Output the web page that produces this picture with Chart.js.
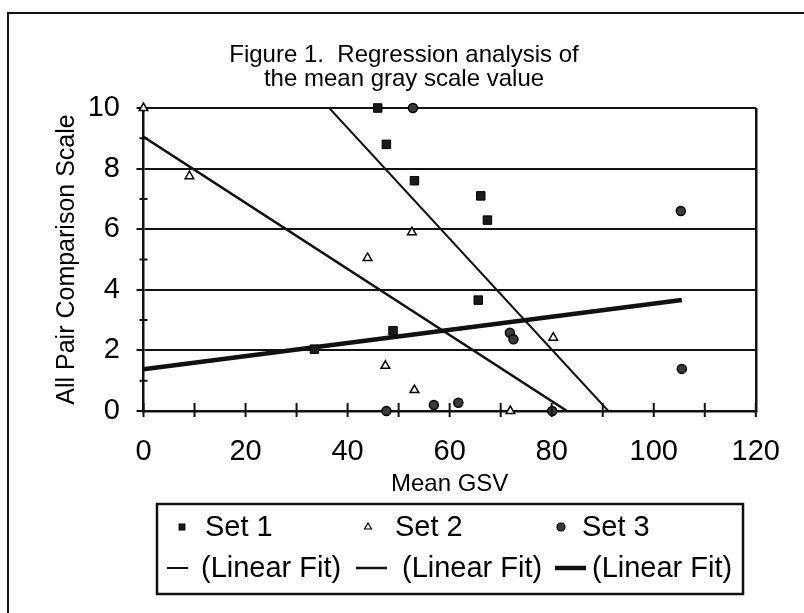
<!DOCTYPE html>
<html lang="en">
<head>
<meta charset="UTF-8">
<title>Figure 1</title>
<script src="https://cdn.jsdelivr.net/npm/chart.js"></script>
<style>
  * { margin: 0; padding: 0; }
  body { background: #fff; width: 804px; height: 613px; overflow: hidden; }
  canvas { display: block; }
</style>
</head>
<body>
<canvas id="chart" width="804" height="613"></canvas>
<script>
// values
const set1X = [33.5, 45.9, 47.6, 48.9, 53.1, 65.6, 66.1, 67.4];
const set1Y = [2.04, 10.0, 8.8, 2.65, 7.6, 3.66, 7.1, 6.3];
const set2X = [0, 9.0, 43.9, 47.4, 52.6, 53.1, 71.9, 80.3];
const set2Y = [10.0, 7.75, 5.05, 1.49, 5.9, 0.69, 0.0, 2.42];
const set3X = [47.6, 52.8, 56.9, 61.7, 71.8, 72.5, 80.1, 105.3, 105.5];
const set3Y = [0.0, 10.0, 0.2, 0.27, 2.58, 2.37, 0.0, 6.6, 1.39];

// fitted lines, end points as drawn
const fit1X = [36.4, 91.1];
const fit1Y = [10.0, 0.0];
const fit2X = [0, 83.0];
const fit2Y = [9.05, 0.0];
const fit3X = [0, 105.5];
const fit3Y = [1.38, 3.66];

const xTicks = [0, 20, 40, 60, 80, 100, 120];
const yTicks = [0, 2, 4, 6, 8, 10];
const seriesNames = ['Set 1', 'Set 2', 'Set 3'];
const fitName = '(Linear Fit)';

const FONT = "'Liberation Sans', Arial, sans-serif";
const INK = '#111';

function pts(xs, ys) {
  return xs.map((x, i) => ({ x: x, y: ys[i] }));
}

// outer frame, tick marks across the axes and the boxed legend
const framePlugin = {
  id: 'frame',
  afterDraw(chart) {
    const ctx = chart.ctx;
    const xs = chart.scales.x, ys = chart.scales.y;
    ctx.save();
    ctx.strokeStyle = INK;
    ctx.lineWidth = 2;
    ctx.beginPath();
    ctx.moveTo(8, 613); ctx.lineTo(8, 13); ctx.lineTo(804, 13);
    ctx.stroke();

    // ticks every 10 on x, odd minor ticks on y
    const y0 = ys.getPixelForValue(0);
    ctx.beginPath();
    for (let v = xs.min; v <= xs.max; v += 10) {
      const px = xs.getPixelForValue(v);
      ctx.moveTo(px, y0 - 8); ctx.lineTo(px, y0 + 6);
    }
    const x0 = xs.getPixelForValue(0);
    for (let v = 1; v < ys.max; v += 2) {
      const py = ys.getPixelForValue(v);
      ctx.moveTo(x0 - 4, py); ctx.lineTo(x0 + 4, py);
    }
    ctx.stroke();

    // legend
    const L = 157, R = 743, T = 504, B = 594;
    ctx.lineWidth = 2.5;
    ctx.strokeRect(L, T, R - L, B - T);
    ctx.font = '29px ' + FONT;
    ctx.fillStyle = '#000';
    ctx.textBaseline = 'middle';
    ctx.textAlign = 'left';
    const row1 = 527, row2 = 568;
    const mk = [182, 368, 561], tx1 = [205, 395, 582];
    const ln = [[167, 188], [356, 387], [555, 586]], tx2 = [201, 402, 592];
    const ds = chart.data.datasets;
    for (let i = 0; i < 3; i++) {
      const p = ds[i];
      ctx.fillStyle = p.backgroundColor;
      ctx.strokeStyle = p.borderColor;
      ctx.lineWidth = 1.2;
      Chart.helpers.drawPoint(ctx, { pointStyle: p.pointStyle, radius: 4, borderWidth: 1.2 }, mk[i], row1);
      ctx.fillStyle = '#000';
      ctx.fillText(seriesNames[i], tx1[i], row1 + 1);
      const f = ds[i + 3];
      ctx.strokeStyle = f.borderColor;
      ctx.lineWidth = f.borderWidth;
      ctx.beginPath();
      ctx.moveTo(ln[i][0], row2); ctx.lineTo(ln[i][1], row2);
      ctx.stroke();
      ctx.fillText(fitName, tx2[i], row2 + 1);
    }
    ctx.restore();
  }
};

new Chart(document.getElementById('chart'), {
  type: 'scatter',
  data: {
    datasets: [
      { label: seriesNames[0], data: pts(set1X, set1Y), pointStyle: 'rect', pointRadius: 6, clip: false,
        backgroundColor: '#1a1a1a', borderColor: '#000', borderWidth: 1, order: 1 },
      { label: seriesNames[1], data: pts(set2X, set2Y), pointStyle: 'triangle', pointRadius: 5, clip: false,
        backgroundColor: '#fff', borderColor: '#000', borderWidth: 1.5, order: 1 },
      { label: seriesNames[2], data: pts(set3X, set3Y), pointStyle: 'circle', pointRadius: 4.5, clip: false,
        backgroundColor: '#3a3a3a', borderColor: '#000', borderWidth: 1.5, order: 1 },
      { label: fitName, data: pts(fit1X, fit1Y), showLine: true, pointRadius: 0,
        borderColor: INK, borderWidth: 2, order: 2 },
      { label: fitName, data: pts(fit2X, fit2Y), showLine: true, pointRadius: 0,
        borderColor: INK, borderWidth: 2.5, order: 2 },
      { label: fitName, data: pts(fit3X, fit3Y), showLine: true, pointRadius: 0,
        borderColor: INK, borderWidth: 4.5, order: 2 }
    ]
  },
  options: {
    responsive: false,
    animation: false,
    devicePixelRatio: 1,
    layout: { padding: { left: 46, right: 42, top: 0, bottom: 112 } },
    plugins: {
      legend: { display: false },
      tooltip: { enabled: false },
      title: {
        display: true,
        text: ['Figure 1.  Regression analysis of', 'the mean gray scale value'],
        color: '#000',
        font: { family: FONT, size: 24, weight: 'normal', lineHeight: 1 },
        padding: { top: 43, bottom: 17 }
      }
    },
    scales: {
      x: {
        type: 'linear', min: 0, max: 120,
        afterFit: (s) => { s.height = 90; },
        ticks: {
          stepSize: 10, autoSkip: false, maxRotation: 0, padding: 24, color: '#000',
          font: { family: FONT, size: 29, lineHeight: 1.2 },
          callback: (v) => xTicks.includes(v) ? String(v) : ''
        },
        grid: {
          drawTicks: false,
          color: (c) => (c.tick && c.tick.value === 120) ? INK : 'rgba(0,0,0,0)',
          lineWidth: 2.5
        },
        border: { display: true, color: INK, width: 2.5 },
        title: {
          display: true, text: 'Mean GSV', color: '#000',
          font: { family: FONT, size: 24, lineHeight: 1.2 },
          padding: { top: 0, bottom: 2 }
        }
      },
      y: {
        type: 'linear', min: 0, max: 10,
        afterFit: (s) => { s.width = 97.5; },
        ticks: {
          stepSize: 1, autoSkip: false, padding: 16.5, color: '#000',
          font: { family: FONT, size: 29, lineHeight: 1.2 },
          callback: (v) => yTicks.includes(v) ? String(v) : ''
        },
        grid: {
          color: (c) => (c.tick && c.tick.value % 2 === 0) ? INK : 'rgba(0,0,0,0)',
          tickColor: (c) => (c.tick && c.tick.value % 2 === 0) ? INK : 'rgba(0,0,0,0)',
          tickLength: 7,
          lineWidth: 2
        },
        border: { display: true, color: INK, width: 2.5 },
        title: {
          display: true, text: 'All Pair Comparison Scale', color: '#000',
          font: { family: FONT, size: 25, lineHeight: 1.2 },
          padding: { top: 6, bottom: 0 }
        }
      }
    }
  },
  plugins: [framePlugin]
});
</script>
</body>
</html>
